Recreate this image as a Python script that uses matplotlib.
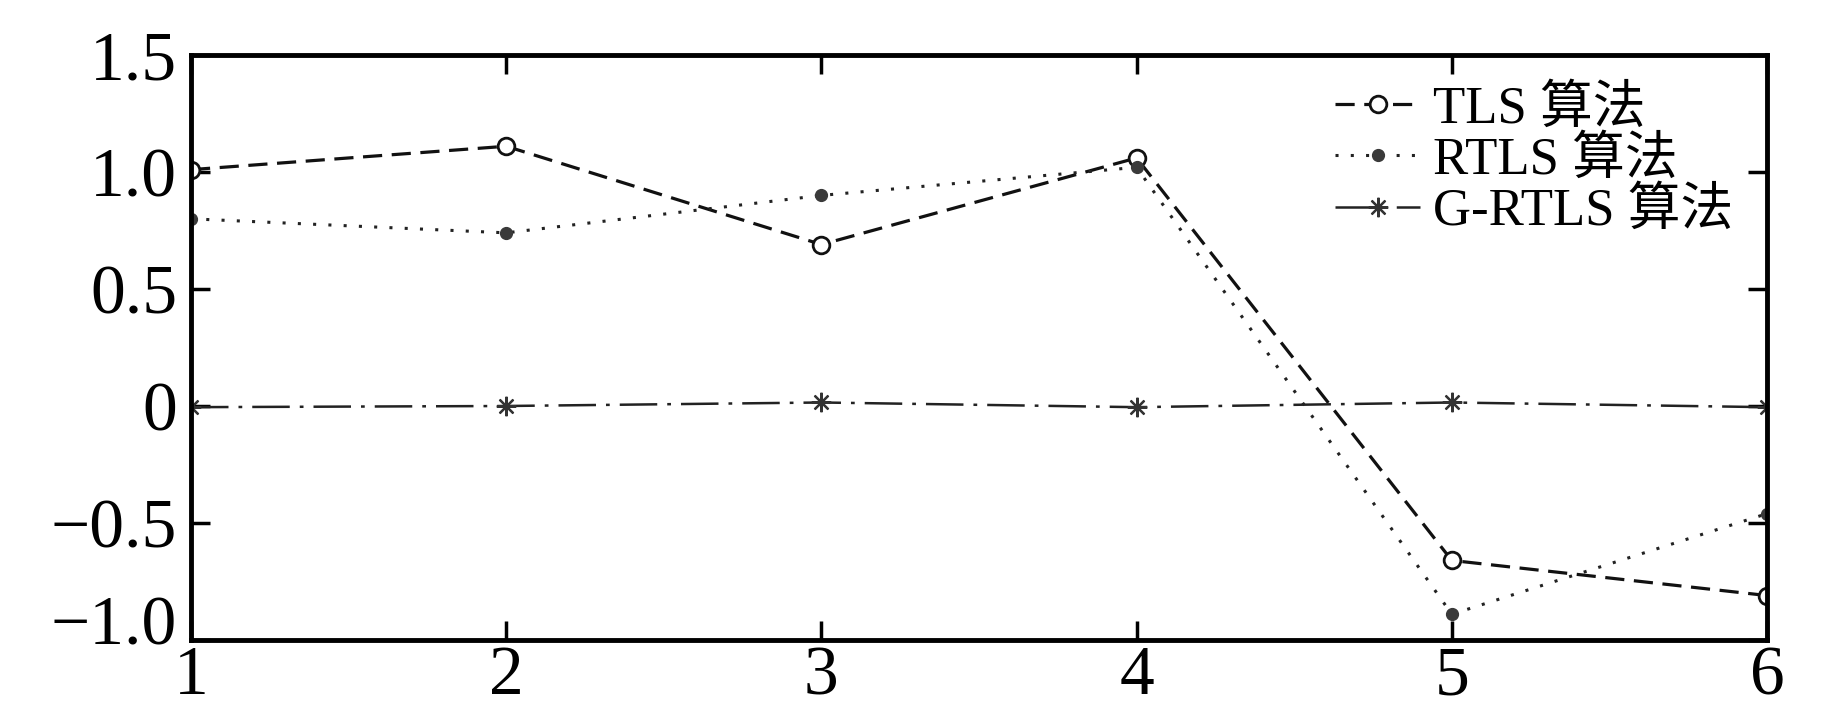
import matplotlib
matplotlib.use("Agg")
import matplotlib.pyplot as plt
import matplotlib.transforms as mtransforms

# data
xVals = [1, 2, 3, 4, 5, 6]
tlsVals = [1.01, 1.11, 0.69, 1.06, -0.66, -0.81]
rtlsVals = [0.80, 0.74, 0.90, 1.02, -0.89, -0.46]
grtlsVals = [-0.005, 0.0, 0.015, -0.005, 0.015, -0.005]
seriesNames = ["TLS 算法", "RTLS 算法", "G-RTLS 算法"]
yTicks = [-1.0, -0.5, 0, 0.5, 1.0, 1.5]
yTickLabels = ["\u22121.0", "\u22120.5", "0", "0.5", "1.0", "1.5"]

fontList = ["Liberation Serif", "Noto Sans CJK SC"]
plt.rcParams["font.family"] = fontList
plt.rcParams["axes.unicode_minus"] = True

fig = plt.figure(figsize=(18.43, 7.09), dpi=100)
ax = fig.add_axes([191 / 1843, 1 - 640 / 709, (1767 - 191) / 1843, (640 - 55) / 709])

ax.plot(xVals, tlsVals, linestyle=(0, (6, 3)), color="#111111", linewidth=2.3,
        marker="o", markersize=12, markerfacecolor="white", markeredgecolor="#111111",
        markeredgewidth=2, label=seriesNames[0])
ax.plot(xVals, rtlsVals, linestyle=(0, (1, 4)), color="#222222", linewidth=2.2,
        marker="o", markersize=8.5, markerfacecolor="#3a3a3a", markeredgecolor="#3a3a3a",
        label=seriesNames[1])
ax.plot(xVals, grtlsVals, linestyle=(0, (15, 4, 1.5, 4)), color="#222222", linewidth=1.8,
        marker=(8, 2, 0), markersize=14, markeredgewidth=1.6, markeredgecolor="#333333",
        label=seriesNames[2])

ax.set_xlim(1, 6)
ax.set_ylim(-1, 1.5)
ax.set_xticks(xVals)
ax.set_yticks(yTicks)
ax.set_yticklabels(yTickLabels)
ax.tick_params(direction="in", length=14, width=2.5, labelsize=50, pad=4,
               top=True, right=True)
ax.tick_params(axis="y", pad=10)
for sp in ax.spines.values():
    sp.set_linewidth(3.5)

# the bottom y label sits a little higher, clear of the x label "1"
lowLabel = ax.get_yticklabels()[0]
lowLabel.set_transform(lowLabel.get_transform() +
                       mtransforms.ScaledTranslation(0, 0.2, fig.dpi_scale_trans))

ax.legend(loc="upper right", bbox_to_anchor=(0.992, 0.985), frameon=False, fontsize=38,
          handlelength=1.6, handletextpad=0.25, labelspacing=0.05, borderaxespad=0.0)

fig.savefig("out.png", dpi=100)
